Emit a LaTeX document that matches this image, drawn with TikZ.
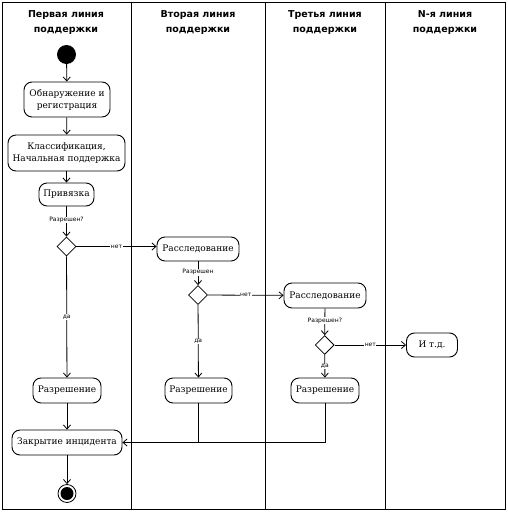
\documentclass[tikz,border=0pt]{standalone}
\usepackage{fontspec}
\setmainfont{DejaVu Serif}
\newfontfamily\headfont{DejaVu Sans}
\newfontfamily\lblfont{DejaVu Sans}
\usetikzlibrary{arrows.meta,shapes.geometric}
\begin{document}
\begin{tikzpicture}[x=1pt,y=-1pt,
  act/.style={draw,rounded corners=8pt,line width=0.9pt,align=center,inner sep=0pt,font=\fontsize{9}{12}\selectfont},
  dec/.style={draw,diamond,aspect=1,minimum size=19pt,inner sep=0pt,line width=0.8pt},
  conn/.style={line width=0.8pt,-{Straight Barb[length=4pt,width=7pt]}},
  plain/.style={line width=0.8pt},
  lbl/.style={fill=white,inner sep=0.6pt,font=\lblfont\fontsize{6}{6}\selectfont},
  head/.style={align=center,font=\headfont\bfseries\fontsize{9.5}{15}\selectfont},
  lane/.style={line width=1pt}]
\useasboundingbox (0,0) rectangle (508,512);
% lanes
\draw[lane] (2,2) rectangle (505,509);
\draw[lane] (131.5,2) -- (131.5,509);
\draw[lane] (265.5,2) -- (265.5,509);
\draw[lane] (385,2) -- (385,509);
\node[head] (h1) at (66,23) {Первая линия\\поддержки};
\node[head] (h2) at (198,23) {Вторая линия\\поддержки};
\node[head] (h3) at (325,23) {Третья линия\\поддержки};
\node[head] (h4) at (445,23) {N-я линия\\поддержки};
% nodes
\node[circle,fill=black,minimum size=19pt,inner sep=0pt] (start) at (66.5,54.5) {};
\node[act,minimum width=86pt,minimum height=35pt] (n1) at (67,99.5) {Обнаружение и\\регистрация};
\node[act,minimum width=117pt,minimum height=36pt] (n2) at (66.5,153) {Классификация,\\Начальная поддержка};
\node[act,minimum width=55pt,minimum height=23pt] (n3) at (66.5,194.5) {Привязка};
\node[dec] (d1) at (66.5,246.5) {};
\node[act,minimum width=82pt,minimum height=24pt] (inv1) at (198,249) {Расследование};
\node[dec] (d2) at (198,295) {};
\node[act,minimum width=82pt,minimum height=25pt] (inv2) at (325,295.5) {Расследование};
\node[dec] (d3) at (324.7,345) {};
\node[act,minimum width=51pt,minimum height=24pt] (etc) at (432,345) {И т.д.};
\node[act,minimum width=68pt,minimum height=25pt] (res1) at (67,390.5) {Разрешение};
\node[act,minimum width=67pt,minimum height=25pt] (res2) at (198.5,390.5) {Разрешение};
\node[act,minimum width=68pt,minimum height=25pt] (res3) at (325,390.5) {Разрешение};
\node[act,minimum width=110pt,minimum height=25pt] (close) at (67,442.5) {Закрытие инцидента};
\node[circle,draw,line width=0.8pt,minimum size=18pt,inner sep=0pt] (endo) at (67,493.5) {};
\node[circle,fill=black,minimum size=13pt,inner sep=0pt] (endi) at (67,493.5) {};
% connectors
\draw[conn] (start) -- (n1);
\draw[conn] (n1) -- (n2);
\draw[conn] (n2) -- (n3);
\draw[conn] (n3) -- node[lbl,pos=0.45] {Разрешен?} (d1);
\draw[conn] (d1) -- node[lbl,pos=0.5] {нет} (inv1.west |- d1);
\draw[conn] (d1) -- node[lbl,pos=0.5] {да} (res1);
\draw[conn] (inv1) -- node[lbl,pos=0.45] {Разрешен} (d2);
\draw[conn] (d2) -- node[lbl,pos=0.5] {нет} (inv2);
\draw[conn] (d2) -- node[lbl,pos=0.5] {да} (res2);
\draw[conn] (inv2) -- node[lbl,pos=0.45] {Разрешен?} (d3);
\draw[conn] (d3) -- node[lbl,pos=0.5] {нет} (etc);
\draw[conn] (d3) -- node[lbl,pos=0.5] {да} (res3);
\draw[conn] (res1) -- (close);
\draw[conn] (res2) |- (close);
\draw[plain] (res3) |- (res2 |- close);
\draw[conn] (close) -- (endo);
\end{tikzpicture}
\end{document}
